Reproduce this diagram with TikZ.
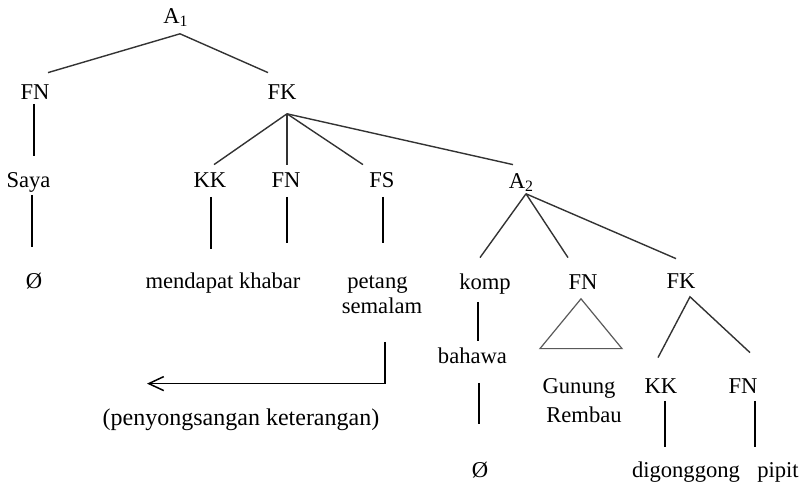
\documentclass[tikz,border=0pt]{standalone}
\usepackage{fontspec}
\setmainfont{Liberation Serif}
\usetikzlibrary{calc,arrows.meta}

\tikzset{
  lbl/.style={anchor=base, inner sep=0pt, text height=7.5pt, text depth=2.2pt,
    font=\fontsize{11.3}{13.5}\selectfont},
  edge/.style={draw=black!80, line width=0.7pt},
  stem/.style={draw=black, line width=1pt},
}

\begin{document}
\begin{tikzpicture}[x=0.5pt, y=-0.5pt]
\useasboundingbox (0,0) rectangle (805,484);

% Labels of the main clause
\node[lbl] (a1) at (176,23) {A\textsubscript{1}};
\node[lbl] (fnA) at (35,99) {FN};
\node[lbl] (fkA) at (282,99) {FK};
\node[lbl] (saya) at (28.5,187) {Saya};
\node[lbl] (kkA) at (210,187) {KK};
\node[lbl] (fnB) at (286,187) {FN};
\node[lbl] (fsA) at (382,187) {FS};
\node[lbl] (nulA) at (34,288) {Ø};
\node[lbl] (mk) at (223,288) {mendapat khabar};
\node[lbl] (petang) at (377.5,288) {petang};
\node[lbl] (semalam) at (382,313) {semalam};

% Labels of the embedded clause
\node[lbl] (a2) at (521.5,188) {A\textsubscript{2}};
\node[lbl] (komp) at (485,289) {komp};
\node[lbl] (fnC) at (583,289) {FN};
\node[lbl] (fkB) at (681,288) {FK};
\node[lbl] (bahawa) at (472.5,363) {bahawa};
\node[lbl] (gunung) at (579,393) {Gunung};
\node[lbl] (rembau) at (584,422) {Rembau};
\node[lbl] (kkB) at (661,393) {KK};
\node[lbl] (fnD) at (743,393) {FN};
\node[lbl] (nulB) at (480,477) {Ø};
\node[lbl] (digong) at (686,477) {digonggong};
\node[lbl] (pipit) at (778,477) {pipit};

\node[lbl, font=\fontsize{12}{14}\selectfont] (penyong) at (241,425) {(penyongsangan keterangan)};

% Branches from A1 and FK
\draw[edge] ($(fnA.north)+(13,-11)$) -- ($(a1.south)+(4,6)$) -- ($(fkA.north)+(-14,-11)$);
\draw[edge] ($(fkA.south)+(5,10)$) -- ($(kkA.north)+(4,-7)$);
\draw[edge] ($(fkA.south)+(5,10)$) -- ($(fnB.north)+(1,-7)$);
\draw[edge] ($(fkA.south)+(5,10)$) -- ($(fsA.north)+(-19,-7)$);
\draw[edge] ($(fkA.south)+(5,10)$) -- ($(a2.north)+(-8.5,-8)$);

% Vertical stems, main clause
\draw[stem] ($(fnA.south)+(-1,0)$) -- ($(saya.north)+(5.5,-16)$);
\draw[stem] ($(saya.south)+(3.5,3)$) -- ($(nulA.north)+(-2,-26)$);
\draw[stem] ($(kkA.south)+(1,5)$) -- ($(mk.north)+(-12,-24)$);
\draw[stem] ($(fnB.south)+(1,5)$) -- ($(mk.north)+(64,-30)$);
\draw[stem] ($(fsA.south)+(1,5)$) -- ($(petang.north)+(5.5,-30)$);

% Branches from A2 and the lower FK
\draw[edge] ($(a2.south)+(4.5,1)$) -- ($(komp.north)+(-5,-16)$);
\draw[edge] ($(a2.south)+(4.5,1)$) -- ($(fnC.north)+(-15,-16)$);
\draw[edge] ($(a2.south)+(4.5,1)$) -- ($(fkB.north)+(-5,-14)$);
\draw[edge] ($(kkB.north)+(-3,-20)$) -- ($(fkB.south)+(9,4)$) -- ($(fnD.north)+(7,-25)$);

% Vertical stems, embedded clause
\draw[stem] ($(komp.south)+(-7,8)$) -- ($(bahawa.north)+(5.5,-7)$);
\draw[stem] ($(bahawa.south)+(6.5,15)$) -- ($(nulB.north)+(-1,-38)$);
\draw[stem] ($(kkB.south)+(4,3)$) -- ($(digong.north)+(-21,-15)$);
\draw[stem] ($(fnD.south)+(12,3)$) -- ($(pipit.north)+(-23,-15)$);

% Triangle over Gunung Rembau
\draw[draw=black!65, line width=0.6pt] ($(fnC.south)+(-2,5)$) -- ($(gunung.north)+(-39,-29)$)
  -- ($(gunung.north)+(43,-29)$) -- cycle;

% Movement arrow
\draw[stem, line width=0.75pt, -{Straight Barb[length=7.5pt, width=7pt]}]
  ($(semalam.south)+(3,24)$) |- ($(penyong.north)+(-94,-26)$);

\end{tikzpicture}
\end{document}
